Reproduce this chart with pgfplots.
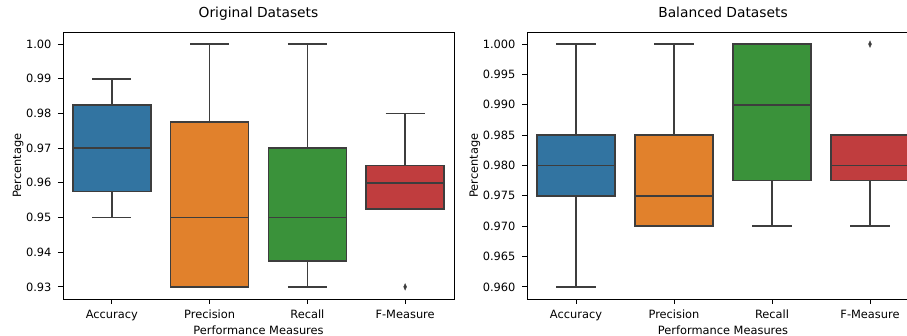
\documentclass[border=0pt]{standalone}
\usepackage{fontspec}
\setmainfont{DejaVu Sans}
\usepackage{pgfplots}
\pgfplotsset{compat=1.18}
\definecolor{sbblue}{HTML}{3274A1}
\definecolor{sborange}{HTML}{E1812C}
\definecolor{sbgreen}{HTML}{3A923A}
\definecolor{sbred}{HTML}{C03D3E}
\definecolor{edge}{HTML}{3D3D3D}
\pgfplotsset{
  sbaxis/.style={
    scale only axis, height=267pt, anchor=south west,
    xmin=-0.5, xmax=3.5,
    xtick={0,1,2,3},
    xticklabels={Accuracy,Precision,Recall,F-Measure},
    tick align=outside, major tick length=5pt,
    xtick pos=bottom, ytick pos=left,
    tick style={black, line width=0.8pt},
    axis line style={black, line width=0.9pt},
    /pgf/number format/assume math mode=true,
    tick label style={font=\fontsize{11.4}{13}\selectfont},
    xticklabel style={text height=8.2pt, text depth=2.2pt, yshift=-3pt},
    yticklabel style={xshift=-3pt},
    label style={font=\fontsize{11.4}{13}\selectfont},
    title style={font=\fontsize{13.8}{16}\selectfont, at={(axis description cs:0.5,1)}, anchor=base, yshift=8.6pt},
    xlabel={Performance Measures},
    ylabel={Percentage},
    xlabel style={at={(axis description cs:0.5,0)}, anchor=base, yshift=-35.5pt},
  },
  wl/.style={draw=edge, line width=1.5pt, mark=none},
  bx/.style={draw=edge, line width=1.5pt, fill=#1, mark=none},
  outl/.style={only marks, mark=diamond*, mark size=3.2pt,
    mark options={fill=edge, draw=edge, xscale=0.6, line width=0.4pt}},
}
\begin{document}
\begin{tikzpicture}
\useasboundingbox (0,0) rectangle (907pt,336pt);
\clip (0,0) rectangle (907pt,336pt);
% ---------------- Original Datasets ----------------
\begin{axis}[sbaxis, at={(63pt,37pt)}, width=391pt,
  title={Original Datasets},
  ymin=0.9265, ymax=1.0035,
  ytick={0.93,0.94,0.95,0.96,0.97,0.98,0.99,1.00},
  yticklabel style={/pgf/number format/.cd, fixed, fixed zerofill, precision=2},
  ylabel style={at={(axis description cs:-0.115,0.5)}, anchor=center},
]
% Accuracy: lw 0.95, q1 0.9575, med 0.97, q3 0.9825, uw 0.99
\addplot[wl] coordinates {(0,0.95) (0,0.9575)};
\addplot[wl] coordinates {(0,0.9825) (0,0.99)};
\addplot[wl] coordinates {(-0.2,0.95) (0.2,0.95)};
\addplot[wl] coordinates {(-0.2,0.99) (0.2,0.99)};
\addplot[bx=sbblue] coordinates {(-0.4,0.9575) (0.4,0.9575) (0.4,0.9825) (-0.4,0.9825)} --cycle;
\addplot[wl] coordinates {(-0.4,0.97) (0.4,0.97)};
% Precision: lw 0.93, q1 0.93, med 0.95, q3 0.9775, uw 1.00
\addplot[wl] coordinates {(1,0.9775) (1,1.00)};
\addplot[wl] coordinates {(0.8,0.93) (1.2,0.93)};
\addplot[wl] coordinates {(0.8,1.00) (1.2,1.00)};
\addplot[bx=sborange] coordinates {(0.6,0.93) (1.4,0.93) (1.4,0.9775) (0.6,0.9775)} --cycle;
\addplot[wl] coordinates {(0.6,0.95) (1.4,0.95)};
% Recall: lw 0.93, q1 0.9375, med 0.95, q3 0.97, uw 1.00
\addplot[wl] coordinates {(2,0.93) (2,0.9375)};
\addplot[wl] coordinates {(2,0.97) (2,1.00)};
\addplot[wl] coordinates {(1.8,0.93) (2.2,0.93)};
\addplot[wl] coordinates {(1.8,1.00) (2.2,1.00)};
\addplot[bx=sbgreen] coordinates {(1.6,0.9375) (2.4,0.9375) (2.4,0.97) (1.6,0.97)} --cycle;
\addplot[wl] coordinates {(1.6,0.95) (2.4,0.95)};
% F-Measure: lw 0.9525, q1 0.9525, med 0.96, q3 0.965, uw 0.98, outlier 0.93
\addplot[wl] coordinates {(3,0.965) (3,0.98)};
\addplot[wl] coordinates {(2.8,0.98) (3.2,0.98)};
\addplot[bx=sbred] coordinates {(2.6,0.9525) (3.4,0.9525) (3.4,0.965) (2.6,0.965)} --cycle;
\addplot[wl] coordinates {(2.6,0.96) (3.4,0.96)};
\addplot[outl] coordinates {(3,0.93)};
\end{axis}
% ---------------- Balanced Datasets ----------------
\begin{axis}[sbaxis, at={(527pt,37pt)}, width=392pt,
  title={Balanced Datasets},
  ymin=0.958, ymax=1.002,
  ytick={0.960,0.965,0.970,0.975,0.980,0.985,0.990,0.995,1.000},
  yticklabel style={/pgf/number format/.cd, fixed, fixed zerofill, precision=3},
  ylabel style={at={(axis description cs:-0.133,0.5)}, anchor=center},
]
% Accuracy: lw 0.96, q1 0.975, med 0.98, q3 0.985, uw 1.00
\addplot[wl] coordinates {(0,0.96) (0,0.975)};
\addplot[wl] coordinates {(0,0.985) (0,1.00)};
\addplot[wl] coordinates {(-0.2,0.96) (0.2,0.96)};
\addplot[wl] coordinates {(-0.2,1.00) (0.2,1.00)};
\addplot[bx=sbblue] coordinates {(-0.4,0.975) (0.4,0.975) (0.4,0.985) (-0.4,0.985)} --cycle;
\addplot[wl] coordinates {(-0.4,0.98) (0.4,0.98)};
% Precision: lw 0.97, q1 0.97, med 0.975, q3 0.985, uw 1.00
\addplot[wl] coordinates {(1,0.985) (1,1.00)};
\addplot[wl] coordinates {(0.8,0.97) (1.2,0.97)};
\addplot[wl] coordinates {(0.8,1.00) (1.2,1.00)};
\addplot[bx=sborange] coordinates {(0.6,0.97) (1.4,0.97) (1.4,0.985) (0.6,0.985)} --cycle;
\addplot[wl] coordinates {(0.6,0.975) (1.4,0.975)};
% Recall: lw 0.97, q1 0.9775, med 0.99, q3 1.00, uw 1.00
\addplot[wl] coordinates {(2,0.97) (2,0.9775)};
\addplot[wl] coordinates {(1.8,0.97) (2.2,0.97)};
\addplot[wl] coordinates {(1.8,1.00) (2.2,1.00)};
\addplot[bx=sbgreen] coordinates {(1.6,0.9775) (2.4,0.9775) (2.4,1.00) (1.6,1.00)} --cycle;
\addplot[wl] coordinates {(1.6,0.99) (2.4,0.99)};
% F-Measure: lw 0.97, q1 0.9775, med 0.98, q3 0.985, uw 0.985, outlier 1.00
\addplot[wl] coordinates {(3,0.97) (3,0.9775)};
\addplot[wl] coordinates {(2.8,0.97) (3.2,0.97)};
\addplot[bx=sbred] coordinates {(2.6,0.9775) (3.4,0.9775) (3.4,0.985) (2.6,0.985)} --cycle;
\addplot[wl] coordinates {(2.6,0.98) (3.4,0.98)};
\addplot[outl] coordinates {(3,1.00)};
\end{axis}
\end{tikzpicture}
\end{document}
